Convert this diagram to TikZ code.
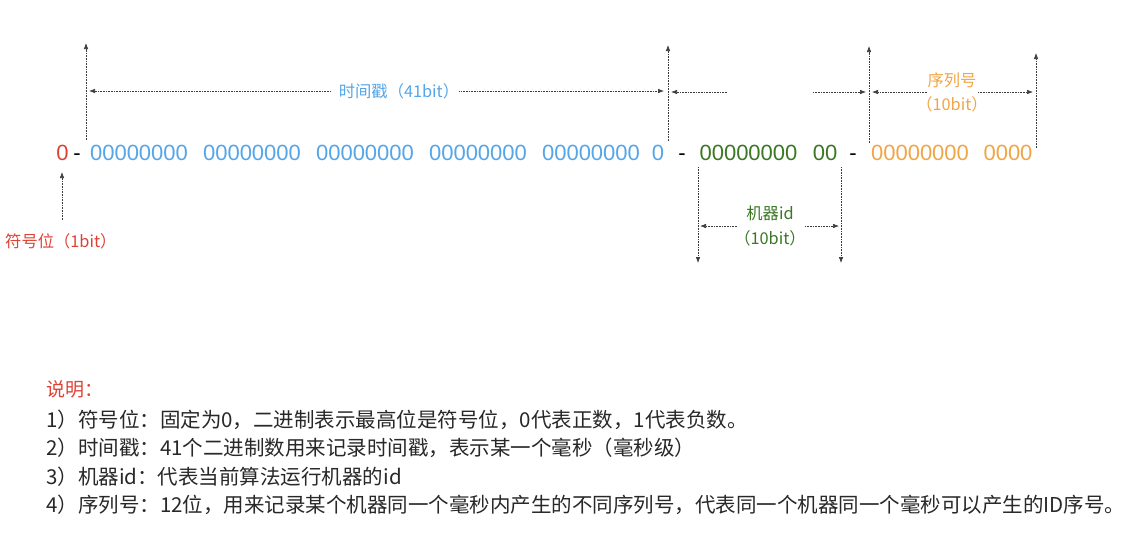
\documentclass[tikz,border=0pt]{standalone}
\usepackage{fontspec}
\setmainfont{Liberation Sans}
\newfontfamily\cjk{Noto Sans CJK SC}
\usetikzlibrary{arrows.meta}
\definecolor{cred}{RGB}{222,66,52}
\definecolor{cblue}{RGB}{84,166,232}
\definecolor{cgreen}{RGB}{58,120,36}
\definecolor{corange}{RGB}{240,166,70}
\definecolor{ctext}{RGB}{40,40,40}
\definecolor{cline}{RGB}{60,60,60}
\begin{document}
\begin{tikzpicture}[x=1pt,y=-1pt,
  bits/.style={inner sep=0pt, font=\fontsize{22}{22}\selectfont},
  lbl/.style={inner sep=0pt, font=\cjk\fontsize{16.3}{16.3}\selectfont},
  note/.style={inner sep=0pt, anchor=west, text=ctext, font=\cjk\fontsize{20.5}{20.5}\selectfont},
  guide/.style={draw=cline, line width=0.6pt, densely dotted, -{Latex[length=6pt,width=4.5pt]}},
]
\useasboundingbox[fill=white] (0,0) rectangle (1134,536);

% bit string
\node[bits,text=cred]    (s0) at (62.5,153) {0};
\node[bits]              (d1) at (77,153)   {\vphantom{0}-};
\node[bits,text=cblue]   (b1) at (139,153)  {00000000};
\node[bits,text=cblue]   (b2) at (252,153)  {00000000};
\node[bits,text=cblue]   (b3) at (365,153)  {00000000};
\node[bits,text=cblue]   (b4) at (478,153)  {00000000};
\node[bits,text=cblue]   (b5) at (591,153)  {00000000};
\node[bits,text=cblue]   (b6) at (658,153)  {0};
\node[bits]              (d2) at (682,153)  {\vphantom{0}-};
\node[bits,text=cgreen]  (g1) at (748.5,153) {00000000};
\node[bits,text=cgreen]  (g2) at (825,153)  {00};
\node[bits]              (d3) at (853,153)  {\vphantom{0}-};
\node[bits,text=corange] (o1) at (920,153)  {00000000};
\node[bits,text=corange] (o2) at (1008,153) {0000};

% labels
\node[lbl,text=cblue]   (tsl)  at (399,91)  {时间戳（41bit）};
\node[lbl,text=cgreen]  (mid1) at (770,213) {机器id};
\node[lbl,text=cgreen]  (mid2) at (770,238) {（10bit）};
\node[lbl,text=corange] (seq1) at (952,80)  {序列号};
\node[lbl,text=corange] (seq2) at (952,104) {（10bit）};
\node[lbl,text=cred,anchor=west] (sgn) at (5,241) {符号位（1bit）};

% upward boundary lines
\coordinate (v0) at (86,140);   \coordinate (v0t) at (86,43);
\coordinate (v1) at (668,141);  \coordinate (v1t) at (668,45);
\coordinate (v2) at (869,143);  \coordinate (v2t) at (869,46);
\coordinate (v3) at (1036,148); \coordinate (v3t) at (1036,53);
\draw[guide] (v0) -- (v0t);
\draw[guide] (v1) -- (v1t);
\draw[guide] (v2) -- (v2t);
\draw[guide] (v3) -- (v3t);

% timestamp span
\coordinate (t0) at (89,91);  \coordinate (t1) at (664,91);
\draw[guide] ([xshift=-8pt]tsl.west) -- (t0);
\draw[guide] (tsl.east) -- (t1);

% gap arrows
\coordinate (m1s) at (727,92); \coordinate (m1e) at (671,92);
\coordinate (m2s) at (813,92); \coordinate (m2e) at (866,92);
\draw[guide] (m1s) -- (m1e);
\draw[guide] (m2s) -- (m2e);

% sequence span
\coordinate (q1s) at (927,92);  \coordinate (q1e) at (872,92);
\coordinate (q2s) at (978,92);  \coordinate (q2e) at (1033,92);
\draw[guide] (q1s) -- (q1e);
\draw[guide] (q2s) -- (q2e);

% machine id span
\coordinate (w0) at (698,167); \coordinate (w0b) at (698,263);
\coordinate (w1) at (841,167); \coordinate (w1b) at (841,263);
\draw[guide] (w0) -- (w0b);
\draw[guide] (w1) -- (w1b);
\coordinate (h1s) at (737,226); \coordinate (h1e) at (700,226);
\coordinate (h2s) at (805,226); \coordinate (h2e) at (839,226);
\draw[guide] (h1s) -- (h1e);
\draw[guide] (h2s) -- (h2e);

% sign bit
\coordinate (sa) at (62,220); \coordinate (sb) at (62,172);
\draw[guide] (sa) -- (sb);

% notes
\node[note,text=cred,font=\cjk\fontsize{19}{19}\selectfont] (n0) at (46,389) {说明：};
\node[note] (n1) at (46,420) {1）符号位：固定为0，二进制表示最高位是符号位，0代表正数，1代表负数。};
\node[note] (n2) at (46,448) {2）时间戳：41个二进制数用来记录时间戳，表示某一个毫秒（毫秒级）};
\node[note] (n3) at (46,477) {3）机器id：代表当前算法运行机器的id};
\node[note] (n4) at (46,505) {4）序列号：12位，用来记录某个机器同一个毫秒内产生的不同序列号，代表同一个机器同一个毫秒可以产生的ID序号。};
\end{tikzpicture}
\end{document}
